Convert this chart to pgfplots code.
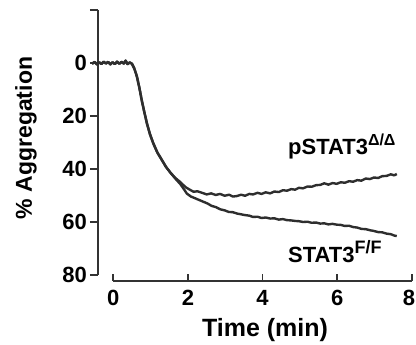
\documentclass[border=0pt]{standalone}
\usepackage{pgfplots}
\pgfplotsset{compat=1.18}
\usepackage{pgfplotstable}
\usepackage{fontspec}
\setmainfont{Liberation Sans}
\definecolor{ink}{HTML}{2E2E2E}
\definecolor{axc}{HTML}{333333}

\pgfplotstableread{
x y
-0.57 0.3
-0.50 -0.4
-0.44 0.5
-0.38 -0.3
-0.32 0.4
-0.26 -0.5
-0.20 0.2
-0.14 -0.4
-0.08 0.5
-0.02 -0.3
0.04 0.4
0.10 -0.5
0.16 0.3
0.22 -0.4
0.28 0.2
0.33 -0.9
0.38 0.4
0.44 -0.2
0.50 0.3
0.56 2.0
0.63 5.0
0.70 9.5
0.76 14.0
0.83 18.5
0.90 22.8
0.98 26.8
1.07 30.3
1.18 33.8
1.30 36.6
1.41 39.2
1.53 41.4
1.66 43.4
1.80 45.0
1.87 46.0
1.95 47.0
2.06 47.9
2.15 48.6
2.25 48.4
2.40 49.1
2.50 49.6
2.62 49.2
2.74 49.8
2.86 49.4
2.98 50.1
3.10 49.7
3.20 50.4
3.31 50.2
3.42 49.7
3.53 50.1
3.64 49.4
3.74 49.6
3.86 49.0
3.97 49.4
4.08 48.8
4.20 49.2
4.31 48.5
4.43 48.7
4.54 48.0
4.65 48.2
4.76 47.6
4.87 47.8
4.97 47.1
5.08 47.3
5.20 46.6
5.31 46.7
5.43 46.1
5.54 46.0
5.65 45.4
5.76 45.9
5.87 45.3
5.98 45.6
6.09 45.0
6.20 45.2
6.31 44.6
6.42 44.8
6.53 44.2
6.64 44.4
6.76 43.6
6.87 43.8
6.98 43.2
7.09 43.4
7.20 42.7
7.32 42.6
7.43 42.0
7.52 42.4
7.59 41.9
}\pstat

\pgfplotstableread{
x y
-0.57 0.3
-0.50 -0.4
-0.44 0.5
-0.38 -0.3
-0.32 0.4
-0.26 -0.5
-0.20 0.2
-0.14 -0.4
-0.08 0.5
-0.02 -0.3
0.04 0.4
0.10 -0.5
0.16 0.3
0.22 -0.4
0.28 0.2
0.33 -0.9
0.38 0.4
0.44 -0.2
0.50 0.3
0.56 2.0
0.63 5.0
0.70 9.5
0.76 14.0
0.83 18.5
0.90 22.8
0.98 26.8
1.07 30.3
1.18 33.8
1.30 36.6
1.41 39.2
1.53 41.4
1.66 43.6
1.80 45.8
1.87 47.2
1.97 49.3
2.08 50.4
2.20 51.1
2.30 51.7
2.40 52.3
2.52 53.0
2.63 53.9
2.75 54.4
2.86 55.2
2.98 55.6
3.09 56.2
3.20 56.3
3.31 56.8
3.42 57.1
3.53 57.4
3.64 57.6
3.74 58.1
3.86 58.0
3.97 58.5
4.08 58.3
4.20 58.7
4.31 58.6
4.43 59.1
4.54 58.9
4.65 59.3
4.76 59.4
4.87 59.6
4.97 59.7
5.08 60.0
5.20 59.9
5.31 60.3
5.43 60.2
5.54 60.6
5.65 60.5
5.76 60.9
5.87 60.7
5.98 61.0
6.09 61.1
6.20 61.5
6.31 61.4
6.42 61.9
6.53 62.1
6.64 62.6
6.76 62.7
6.87 63.1
6.98 63.4
7.09 63.8
7.20 63.9
7.32 64.4
7.43 64.6
7.52 65.1
7.59 65.3
}\stat

\begin{document}
\begin{tikzpicture}
\useasboundingbox (-98pt,-70pt) rectangle (318pt,275pt);
\begin{axis}[
  at={(0pt,0pt)}, anchor=south west,
  scale only axis,
  width=314.1pt, height=265pt,
  xmin=-0.41, xmax=8,
  ymin=-20, ymax=80,
  y dir=reverse,
  clip=false,
  axis x line=none,
  axis y line*=left,
  axis line style={axc, line width=1.8pt, -},
  ytick={0,20,40,60,80},
  extra y ticks={-20},
  extra y tick labels={},
  tick align=outside,
  major tick length=8pt,
  tick style={axc, line width=1.8pt},
  /pgf/number format/assume math mode=true,
  yticklabel style={font=\fontsize{22}{22}\selectfont\bfseries, text=black, inner sep=0pt, anchor=east, xshift=-3pt},
]
\addplot[ink, line width=2.4pt, line join=round] table[x=x,y=y] {\pstat};
\addplot[ink, line width=2.4pt, line join=round] table[x=x,y=y] {\stat};
\end{axis}
\begin{axis}[
  at={(15.2pt,-6pt)}, anchor=south west,
  scale only axis,
  width=298.8pt, height=10pt,
  xmin=0, xmax=8,
  ymin=0, ymax=1,
  axis y line=none,
  axis x line*=bottom,
  axis line style={axc, line width=1.8pt, -},
  xtick={0,2,4,6,8},
  xticklabels={0,2,4,6,8\hspace*{6pt}},
  tick align=inside,
  major tick length=7pt,
  tick style={axc, line width=1.8pt},
  xticklabel style={font=\fontsize{22}{22}\selectfont\bfseries, text=black, inner sep=0pt, anchor=north, yshift=-9pt},
]
\end{axis}
\node[rotate=90, font=\fontsize{23}{23}\selectfont\bfseries] at (-72pt,137pt) {\% Aggregation};
\node[anchor=base, font=\fontsize{25}{25}\selectfont\bfseries] at (167pt,-62pt) {Time (min)};
\node[anchor=base west, inner sep=0pt, font=\fontsize{22}{22}\selectfont\bfseries] at (190pt,120pt) {pSTAT3\raisebox{0.42em}{\fontsize{16}{16}\selectfont Δ/Δ}};
\node[anchor=base west, inner sep=0pt, font=\fontsize{22}{22}\selectfont\bfseries] at (190pt,12pt) {STAT3\raisebox{0.42em}{\fontsize{18}{18}\selectfont F/F}};
\end{tikzpicture}
\end{document}
